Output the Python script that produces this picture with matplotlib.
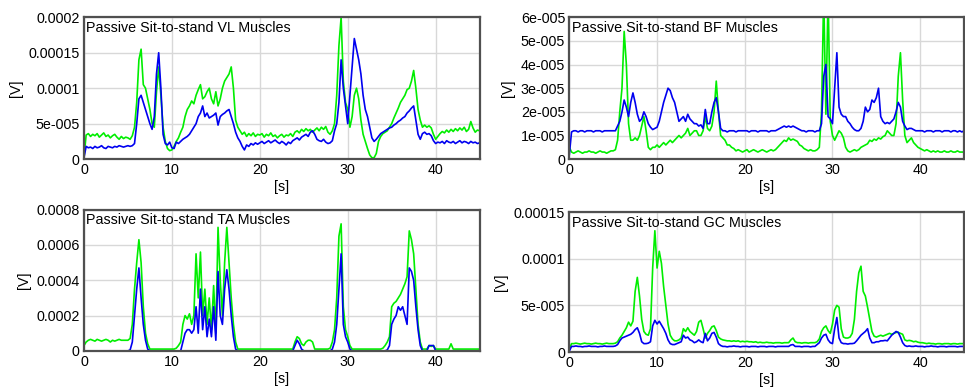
import numpy as np
import matplotlib
matplotlib.use("Agg")
import matplotlib.pyplot as plt
from matplotlib.ticker import FixedLocator, FixedFormatter

# EMG envelopes, one value every 0.25 s (0..45 s)
step = 0.25

# VL, units of 1e-5 V
vl_green = [0.3,3.4,3.6,3.2,3.5,3.3,3.6,3.1,3.4,3.7,3.2,3.4,3.0,3.3,3.5,3.1,2.8,3.2,2.9,3.1,
            3.0,2.8,3.3,4.5,8.0,14.0,15.5,10.5,10.0,8.5,7.0,5.0,4.5,9.5,13.0,9.0,4.5,2.5,1.5,1.2,
            1.3,1.8,2.5,3.0,3.8,4.5,6.0,7.0,7.5,8.2,7.8,9.0,9.8,10.5,8.5,8.8,9.5,10.0,8.5,7.8,
            9.5,7.5,8.5,10.0,11.0,11.5,12.0,13.0,10.0,5.5,4.5,4.0,3.5,3.8,3.2,3.6,3.3,3.7,3.2,3.5,
            3.4,3.6,3.1,3.5,3.3,3.7,3.2,3.4,3.0,3.3,3.5,3.1,3.4,3.3,3.6,3.2,3.8,4.0,3.7,4.2,
            3.9,4.3,4.0,4.2,3.8,4.1,4.4,4.0,4.5,4.2,4.6,3.8,3.5,4.0,5.0,9.0,16.0,20.0,11.0,8.0,
            7.0,4.5,6.0,9.0,10.0,8.5,5.5,3.5,2.5,1.5,0.6,0.2,0.2,0.8,2.5,3.2,3.6,3.8,4.0,4.5,
            5.0,5.8,6.5,7.2,8.0,8.5,9.0,9.8,10.0,11.0,12.5,10.0,7.0,5.5,4.5,4.8,4.5,4.7,4.4,3.5,
            2.8,3.2,3.6,3.9,3.7,4.1,3.8,4.2,3.9,4.3,4.0,4.4,4.1,4.5,3.9,4.2,5.3,4.4,3.8,4.1,
            4.0]
vl_blue = [0.2,1.8,1.6,1.7,1.5,1.8,1.6,1.7,1.9,1.6,1.5,1.8,1.7,1.6,1.8,1.7,1.9,1.8,1.7,1.8,
           1.9,1.8,1.9,2.2,5.0,8.5,9.0,8.0,7.0,6.0,5.0,4.2,6.0,12.0,15.0,10.0,3.5,2.2,2.0,2.4,
           1.6,1.5,2.4,2.2,2.5,2.8,3.0,3.2,3.5,4.0,4.5,5.0,6.0,6.5,7.5,6.0,6.5,5.8,6.0,6.2,
           6.5,4.8,6.0,6.3,6.5,6.8,7.0,6.0,5.0,3.8,3.0,2.5,1.8,1.3,2.0,1.8,2.2,2.0,2.3,2.1,
           2.3,2.5,2.2,2.4,2.6,2.3,2.5,2.7,2.4,2.2,2.5,2.3,2.0,2.4,2.2,2.6,2.8,3.0,2.7,3.1,
           3.3,3.5,3.2,3.8,4.0,3.5,2.8,2.6,2.5,2.8,2.4,2.2,2.3,2.6,4.0,5.0,8.0,14.0,10.0,7.5,
           5.0,9.0,13.0,17.0,15.5,14.0,12.0,9.0,7.0,6.0,4.5,3.0,2.5,2.8,3.2,3.6,3.8,4.0,4.2,4.4,
           4.5,4.8,5.0,5.3,5.5,5.8,6.0,6.5,6.8,7.2,7.5,5.5,3.5,2.8,3.6,3.8,3.5,3.6,3.3,2.6,
           2.2,2.4,2.3,2.5,2.2,2.6,2.4,2.3,2.5,2.2,2.4,2.6,2.3,2.5,2.4,2.2,2.5,2.3,2.4,2.2,
           2.3]

# BF, units of 1e-5 V
bf_green = [0.5,0.3,0.25,0.3,0.35,0.3,0.25,0.3,0.3,0.35,0.3,0.3,0.25,0.3,0.35,0.3,0.3,0.25,0.3,0.35,
            0.35,0.4,0.8,2.0,3.0,5.4,4.0,1.5,0.8,0.8,0.9,0.8,1.0,1.4,1.8,1.2,0.5,0.4,0.5,0.5,
            0.6,0.5,0.6,0.7,0.6,0.7,0.8,0.7,0.8,0.9,1.0,0.9,1.0,1.1,1.3,1.0,1.1,1.2,1.2,1.0,
            1.0,1.2,1.8,1.3,1.2,1.4,2.0,3.3,2.0,1.0,0.9,0.8,0.6,0.6,0.5,0.45,0.35,0.4,0.35,0.3,
            0.35,0.4,0.3,0.35,0.4,0.35,0.3,0.35,0.4,0.35,0.3,0.35,0.4,0.35,0.4,0.5,0.6,0.7,0.8,0.75,
            0.9,0.8,0.85,0.8,0.75,0.6,0.55,0.45,0.4,0.35,0.4,0.35,0.35,0.4,0.5,2.0,7.0,1.9,7.0,1.6,
            1.0,0.8,1.0,1.2,1.1,0.9,0.5,0.35,0.3,0.35,0.4,0.35,0.4,0.5,0.55,0.6,0.65,0.8,0.75,0.85,
            0.8,0.9,0.85,0.95,1.0,1.2,1.1,1.0,1.0,1.5,3.5,4.5,2.5,1.0,0.7,0.8,0.9,0.7,0.6,0.5,
            0.45,0.4,0.35,0.4,0.35,0.3,0.35,0.3,0.35,0.3,0.3,0.35,0.3,0.3,0.35,0.3,0.3,0.35,0.3,0.3,
            0.3]
bf_blue = [0.2,1.15,1.2,1.2,1.15,1.2,1.2,1.15,1.2,1.2,1.2,1.15,1.2,1.2,1.2,1.15,1.2,1.2,1.2,1.2,
           1.2,1.2,1.4,1.6,2.0,2.5,2.2,1.8,2.4,2.8,2.4,1.9,1.6,1.7,2.0,1.8,1.5,1.35,1.25,1.3,
           1.35,1.6,2.0,2.4,2.7,3.0,2.9,2.6,2.4,2.0,1.6,1.7,1.8,1.6,1.9,1.7,1.6,1.5,1.5,1.4,
           1.45,1.3,2.1,1.5,1.5,2.0,2.4,2.6,2.0,1.3,1.2,1.2,1.15,1.2,1.2,1.2,1.15,1.2,1.2,1.2,
           1.2,1.2,1.15,1.2,1.2,1.2,1.15,1.2,1.2,1.2,1.2,1.15,1.2,1.2,1.2,1.25,1.3,1.35,1.4,1.35,
           1.4,1.35,1.4,1.35,1.3,1.25,1.2,1.2,1.15,1.2,1.2,1.2,1.15,1.2,1.2,1.5,3.5,4.0,1.8,1.7,
           1.5,3.0,4.5,2.2,1.9,1.8,1.8,1.6,1.5,1.35,1.25,1.2,1.2,1.3,1.6,2.2,2.0,2.1,2.5,2.4,
           2.6,3.0,1.8,1.6,1.5,1.55,1.5,1.6,1.7,2.0,2.4,2.2,1.6,1.4,1.25,1.3,1.3,1.25,1.2,1.2,
           1.2,1.2,1.15,1.2,1.2,1.2,1.15,1.2,1.2,1.2,1.15,1.2,1.2,1.2,1.15,1.2,1.2,1.15,1.2,1.15,
           1.2]

# TA, units of 1e-4 V
ta_green = [0.3,0.5,0.6,0.65,0.6,0.55,0.65,0.6,0.55,0.6,0.65,0.6,0.5,0.6,0.55,0.6,0.65,0.6,0.6,0.6,
            0.6,0.7,1.5,3.5,5.0,6.3,5.0,2.5,1.0,0.4,0.1,0.1,0.1,0.1,0.1,0.1,0.1,0.1,0.1,0.1,
            0.1,0.1,0.15,0.3,0.5,1.5,2.0,1.8,2.1,1.5,2.0,5.5,3.0,5.6,2.0,3.5,1.5,3.0,1.2,3.7,
            1.0,7.0,4.0,2.0,5.0,7.0,5.0,3.0,1.5,0.5,0.1,0.1,0.1,0.1,0.1,0.1,0.1,0.1,0.1,0.1,
            0.1,0.1,0.1,0.1,0.1,0.1,0.1,0.1,0.1,0.1,0.1,0.1,0.1,0.1,0.1,0.1,0.5,0.8,0.7,0.4,
            0.3,0.5,0.6,0.6,0.5,0.1,0.1,0.1,0.1,0.1,0.1,0.1,0.15,0.5,1.2,3.0,6.5,7.2,2.5,1.2,
            0.8,0.3,0.1,0.1,0.1,0.1,0.1,0.1,0.1,0.1,0.1,0.1,0.1,0.1,0.1,0.1,0.15,0.3,0.5,0.8,
            2.5,2.7,2.8,3.0,3.2,3.5,3.8,4.2,6.8,6.3,5.5,3.5,1.5,0.5,0.1,0.1,0.1,0.3,0.25,0.3,
            0.1,0.1,0.1,0.1,0.1,0.1,0.1,0.4,0.1,0.1,0.1,0.1,0.1,0.1,0.1,0.1,0.1,0.1,0.1,0.1,
            0.1]
ta_blue = [0,0,0,0,0,0,0,0,0,0,0,0,0,0,0,0,0,0,0,0,
           0,0.05,0.5,2.0,3.5,4.7,3.0,1.5,0.6,0.1,0,0,0,0,0,0,0,0,0,0,
           0,0,0,0,0,0.5,1.0,1.2,1.2,1.0,1.2,2.5,1.0,3.5,1.2,2.5,0.8,1.8,0.8,2.5,
           0.6,4.5,2.0,1.5,3.5,4.6,3.5,2.0,0.8,0.1,0,0,0,0,0,0,0,0,0,0,
           0,0,0,0,0,0,0,0,0,0,0,0,0,0,0,0,0.3,0.6,0.4,0.1,
           0,0,0,0,0,0,0,0,0,0,0,0,0,0.1,0.5,1.5,3.5,5.5,1.5,0.8,
           0.5,0.1,0,0,0,0,0,0,0,0,0,0,0,0,0,0,0,0,0.05,0.3,
           1.5,1.8,2.0,2.5,2.3,2.5,2.0,1.5,4.7,4.5,4.0,2.5,1.2,0.3,0,0,0,0.3,0.3,0.3,
           0,0,0,0,0,0,0,0,0,0,0,0,0,0,0,0,0,0,0,0,
           0]

# GC, units of 1e-5 V
gc_green = [0.3,0.9,0.9,0.95,0.9,0.85,0.9,0.95,0.9,0.9,0.85,0.9,0.95,0.9,0.9,0.85,0.9,0.95,0.9,0.9,
            0.9,0.95,1.1,1.5,1.8,2.2,2.6,3.2,2.8,3.3,6.5,8.0,6.0,3.5,2.2,1.9,1.8,2.5,9.0,13.0,
            9.0,10.8,9.5,7.0,5.0,3.0,1.8,1.4,1.2,1.2,1.3,1.5,2.5,2.2,2.6,2.2,2.0,1.8,2.2,3.2,
            3.4,2.5,1.5,2.0,2.3,2.7,2.8,2.3,1.6,1.4,1.3,1.25,1.2,1.2,1.15,1.2,1.15,1.2,1.1,1.15,
            1.1,1.15,1.1,1.1,1.05,1.1,1.0,1.05,1.0,1.0,1.05,1.0,1.0,0.95,1.0,1.0,1.0,0.95,1.0,1.0,
            1.0,1.3,1.5,1.1,1.0,1.0,0.95,1.0,1.0,0.95,1.0,1.0,1.0,1.1,1.4,2.2,2.6,2.8,2.3,2.0,
            3.0,4.5,5.0,4.8,2.5,1.6,1.5,1.5,1.6,2.0,3.5,6.5,8.5,9.2,6.5,6.0,4.8,3.5,2.2,1.7,
            1.6,1.7,1.8,1.7,1.8,1.9,2.0,1.9,2.0,2.1,2.1,2.0,1.9,1.3,1.2,1.25,1.2,1.1,1.15,1.05,
            1.0,1.0,0.95,0.9,0.95,0.9,0.9,0.85,0.9,0.9,0.85,0.9,0.9,0.9,0.85,0.9,0.9,0.85,0.9,0.9,
            0.9]
gc_blue = [0.1,0.6,0.6,0.65,0.6,0.6,0.55,0.6,0.6,0.65,0.6,0.6,0.6,0.55,0.6,0.6,0.65,0.6,0.6,0.6,
           0.6,0.65,0.8,1.2,1.5,1.6,1.7,1.8,1.9,2.1,2.4,2.6,2.0,1.1,0.9,0.9,0.95,1.1,2.8,3.4,
           3.0,3.3,2.9,2.5,2.0,1.3,0.9,0.8,0.8,0.9,1.0,1.1,1.8,1.5,1.6,1.3,1.2,1.0,1.1,1.3,
           1.1,1.0,2.0,1.2,1.5,2.0,2.1,1.6,0.9,0.7,0.6,0.6,0.55,0.6,0.6,0.65,0.6,0.6,0.55,0.6,
           0.6,0.6,0.55,0.6,0.6,0.6,0.55,0.6,0.6,0.6,0.55,0.6,0.6,0.6,0.55,0.6,0.6,0.6,0.6,0.6,
           0.6,0.75,0.8,0.6,0.6,0.6,0.55,0.6,0.6,0.6,0.55,0.6,0.6,0.8,1.0,1.5,1.8,1.9,1.3,1.0,
           0.9,2.5,3.7,1.5,1.0,0.9,0.9,0.85,0.9,0.9,0.95,1.2,1.5,1.8,2.0,2.2,2.5,1.5,1.0,1.0,
           1.1,1.1,1.2,1.2,1.25,1.2,1.5,1.8,2.0,2.2,2.1,1.6,1.0,0.7,0.6,0.65,0.6,0.6,0.65,0.6,
           0.6,0.6,0.55,0.6,0.6,0.65,0.6,0.6,0.55,0.6,0.6,0.6,0.55,0.6,0.6,0.6,0.6,0.55,0.6,0.6,
           0.6]

titles = ["Passive Sit-to-stand VL Muscles", "Passive Sit-to-stand BF Muscles",
          "Passive Sit-to-stand TA Muscles", "Passive Sit-to-stand GC Muscles"]
scales = [1e-5, 1e-5, 1e-4, 1e-5]
ymax = [0.0002, 6e-5, 0.0008, 0.00015]
yticks = [[0, 5e-5, 1e-4, 1.5e-4, 2e-4],
          [0, 1e-5, 2e-5, 3e-5, 4e-5, 5e-5, 6e-5],
          [0, 2e-4, 4e-4, 6e-4, 8e-4],
          [0, 5e-5, 1e-4, 1.5e-4]]
ytick_labels = [["0", "5e-005", "0.0001", "0.00015", "0.0002"],
                ["0", "1e-005", "2e-005", "3e-005", "4e-005", "5e-005", "6e-005"],
                ["0", "0.0002", "0.0004", "0.0006", "0.0008"],
                ["0", "5e-005", "0.0001", "0.00015"]]
xticks = [0, 10, 20, 30, 40]
series = [(vl_green, vl_blue), (bf_green, bf_blue), (ta_green, ta_blue), (gc_green, gc_blue)]

plt.rcParams['font.family'] = ['Liberation Sans', 'DejaVu Sans']
fig = plt.figure(figsize=(9.65, 3.92), dpi=100)
rects = [[0.087, 0.594, 0.410, 0.362],
         [0.590, 0.594, 0.409, 0.362],
         [0.087, 0.105, 0.410, 0.360],
         [0.590, 0.102, 0.409, 0.357]]

for i in range(4):
    ax = fig.add_axes(rects[i])
    g, b = series[i]
    t = np.arange(len(g)) * step
    ax.plot(t, np.array(g) * scales[i], color='#00ee00', lw=1.2)
    ax.plot(t, np.array(b) * scales[i], color='#0000f0', lw=1.2)
    ax.set_xlim(0, 45)
    ax.set_ylim(0, ymax[i])
    ax.yaxis.set_major_locator(FixedLocator(yticks[i]))
    ax.yaxis.set_major_formatter(FixedFormatter(ytick_labels[i]))
    ax.set_xticks(xticks)
    ax.tick_params(length=0, labelsize=10.3, pad=3)
    ax.grid(True, color='#d8d8d8', lw=1.0)
    ax.set_axisbelow(True)
    for s in ax.spines.values():
        s.set_color('#505050')
        s.set_linewidth(1.6)
    ax.set_xlabel("[s]", fontsize=10.3, labelpad=2)
    ax.set_ylabel("[V]", fontsize=10.3, labelpad=4)
    ax.text(0.006, 0.975, titles[i], transform=ax.transAxes, ha='left', va='top', fontsize=10.3)

fig.savefig("out.png", dpi=100)
